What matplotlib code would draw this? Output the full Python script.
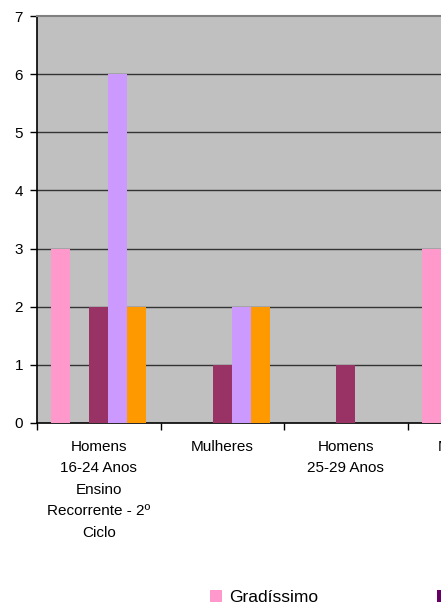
import numpy as np
import matplotlib.pyplot as plt
from matplotlib.patches import Patch

plt.rcParams['font.family'] = ['Liberation Sans', 'DejaVu Sans']

categorias = [
    "Homens\n16-24 Anos\nEnsino\nRecorrente - 2º\nCiclo",
    "Mulheres",
    "Homens\n25-29 Anos",
    "Mulheres",
]
series = ["Gradíssimo", "Grande", "Médio", "Pequeno", "Nenhum"]
cores = ["#FF99CC", "#660066", "#993366", "#CC99FF", "#FF9900"]

gradissimo = [3, 0, 0, 3]
grande = [0, 0, 0, 0]
medio = [2, 1, 1, 0]
pequeno = [6, 2, 0, 0]
nenhum = [2, 2, 0, 0]
valores = [gradissimo, grande, medio, pequeno, nenhum]

W, H = 441, 610
fig = plt.figure(figsize=(W / 100, H / 100), dpi=100)
cat_px = 123.5
ax = fig.add_axes([37 / W, 1 - 423 / H, len(categorias) * cat_px / W, 407 / H])
ax.set_facecolor("#C0C0C0")

x = np.arange(len(categorias))
largura = 19 / cat_px
for k, (nome, vals, cor) in enumerate(zip(series, valores, cores)):
    ax.bar(x + (k - 2) * largura, vals, width=largura, color=cor, zorder=3)

ax.set_xlim(-0.5, len(categorias) - 0.5)
ax.set_ylim(0, 7)
ax.set_yticks(range(8))
for y in range(1, 7):
    ax.axhline(y, color="#333333", lw=1, zorder=1)

ax.set_xticks(np.arange(len(categorias) + 1) - 0.5)
ax.set_xticklabels([])
ax.set_xticks(x, minor=True)
ax.set_xticklabels(categorias, minor=True, fontsize=11, linespacing=1.68, va="top")
ax.tick_params(axis="x", which="minor", length=0, pad=12)
ax.tick_params(axis="x", which="major", length=5, width=1, color="black")
ax.tick_params(axis="y", length=5, width=1, labelsize=11, pad=5)

ax.spines["right"].set_visible(False)
ax.spines["top"].set_color("#808080")
ax.spines["top"].set_linewidth(1.5)
ax.spines["left"].set_linewidth(1.2)
ax.spines["bottom"].set_linewidth(1.2)

handles = [Patch(facecolor=c, edgecolor="none") for c in cores]
fig.legend(handles, series, ncol=5, loc="upper left",
           bbox_to_anchor=(194 / W, 1 - 574 / H), frameon=False,
           fontsize=12.5, handlelength=0.7, handleheight=0.7,
           handletextpad=0.45, columnspacing=6.8)

fig.savefig("out.png", dpi=100)
